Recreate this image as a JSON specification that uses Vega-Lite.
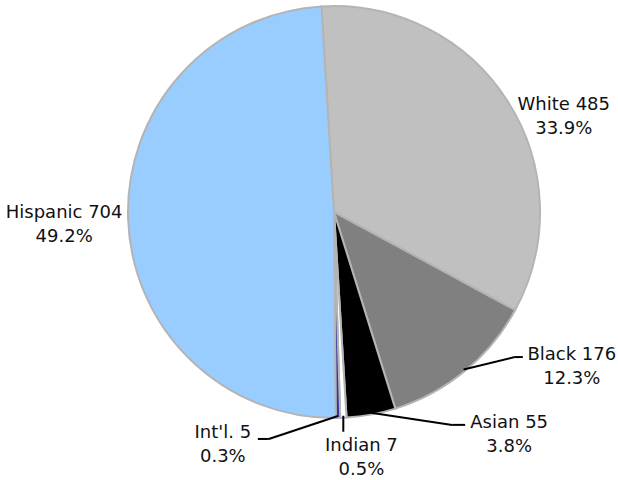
{
  "$schema": "https://vega.github.io/schema/vega-lite/v6.json",
  "width": 412,
  "height": 412,
  "autosize": "none",
  "padding": {"left": 128, "top": 6, "right": 78, "bottom": 62},
  "background": "white",
  "config": {"view": {"stroke": null}},
  "data": {
    "values": [
      {"group": "White", "value": 485},
      {"group": "Black", "value": 176},
      {"group": "Asian", "value": 55},
      {"group": "Indian", "value": 7},
      {"group": "Int'l.", "value": 5},
      {"group": "Hispanic", "value": 704}
    ]
  },
  "transform": [
    {"window": [{"op": "row_number", "as": "i"}]},
    {"joinaggregate": [{"op": "sum", "field": "value", "as": "total"}]},
    {"stack": "value", "groupby": [], "sort": [{"field": "i"}], "as": ["s0", "s1"]},
    {"calculate": "-0.061 + PI * (datum.s0 + datum.s1) / datum.total", "as": "mid"},
    {"calculate": "datum.group + ' ' + datum.value + '\\n' + format(datum.value / datum.total, '.1%')", "as": "label"},
    {"calculate": "250 * sin(datum.mid) + (datum.group === 'White' ? 19 : datum.group === 'Black' ? 79 : datum.group === 'Asian' ? 130 : datum.group === 'Indian' ? 16 : datum.group === \"Int'l.\" ? -116 : -20)", "as": "tx"},
    {"calculate": "-250 * cos(datum.mid) + (datum.group === 'White' ? 27 : datum.group === 'Black' ? -50 : datum.group === 'Asian' ? -35 : datum.group === 'Indian' ? -16 : datum.group === \"Int'l.\" ? -29 : -8)", "as": "ty"},
    {"calculate": "204 * sin(datum.mid)", "as": "sx"},
    {"calculate": "-204 * cos(datum.mid)", "as": "sy"},
    {"calculate": "datum.group === 'Indian' ? datum.sx : datum.tx + (datum.group === 'Black' ? -49 : datum.group === 'Asian' ? -44 : 35)", "as": "ex"},
    {"calculate": "datum.ty + (datum.group === 'Indian' ? -14 : datum.group === \"Int'l.\" ? 6 : 2)", "as": "ey"},
    {"calculate": "datum.group === 'Indian' ? datum.ex : datum.tx + (datum.group === 'Black' ? -57 : datum.group === 'Asian' ? -57 : 46)", "as": "bx"}
  ],
  "layer": [
    {
      "mark": {"type": "arc", "stroke": "#b4b4b4", "strokeWidth": 2},
      "encoding": {
        "theta": {"field": "s0", "type": "quantitative", "stack": null, "scale": {"domain": [0, 1432], "range": [-0.061, 6.2222]}},
        "theta2": {"field": "s1"},
        "color": {
          "field": "group",
          "type": "nominal",
          "scale": {
            "domain": ["White", "Black", "Asian", "Indian", "Int'l.", "Hispanic"],
            "range": ["#c0c0c0", "#808080", "#000000", "#ffffff", "#333399", "#99ccff"]
          },
          "legend": null
        }
      }
    },
    {
      "transform": [{"filter": "datum.group !== 'White' && datum.group !== 'Hispanic'"}],
      "mark": {"type": "rule", "color": "#000000", "strokeWidth": 2},
      "encoding": {
        "x": {"field": "sx", "type": "quantitative", "scale": {"domain": [-206, 206]}, "axis": null},
        "y": {"field": "sy", "type": "quantitative", "scale": {"domain": [-206, 206], "reverse": true}, "axis": null},
        "x2": {"field": "bx"},
        "y2": {"field": "ey"}
      }
    },
    {
      "transform": [{"filter": "datum.group !== 'White' && datum.group !== 'Hispanic'"}],
      "mark": {"type": "rule", "color": "#000000", "strokeWidth": 2},
      "encoding": {
        "x": {"field": "bx", "type": "quantitative", "scale": {"domain": [-206, 206]}, "axis": null},
        "y": {"field": "ey", "type": "quantitative", "scale": {"domain": [-206, 206], "reverse": true}, "axis": null},
        "x2": {"field": "ex"},
        "y2": {"field": "ey"}
      }
    },
    {
      "mark": {
        "type": "text",
        "font": "DejaVu Sans",
        "fontSize": 18,
        "lineHeight": 24,
        "lineBreak": "\n",
        "align": "center",
        "baseline": "middle",
        "color": "#111111"
      },
      "encoding": {
        "x": {"field": "tx", "type": "quantitative", "scale": {"domain": [-206, 206]}, "axis": null},
        "y": {"field": "ty", "type": "quantitative", "scale": {"domain": [-206, 206], "reverse": true}, "axis": null},
        "text": {"field": "label", "type": "nominal"}
      }
    }
  ]
}
